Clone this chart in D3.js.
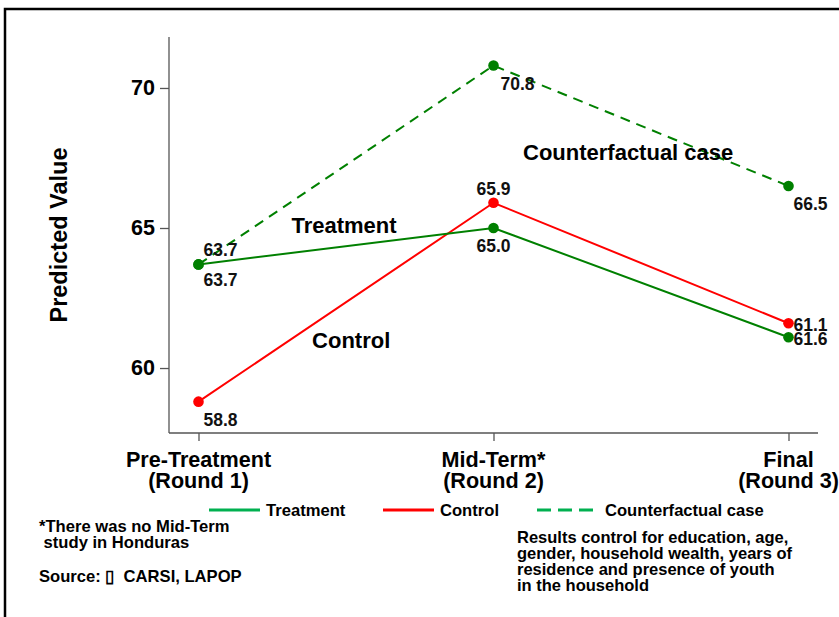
<!DOCTYPE html>
<html>
<head>
<meta charset="utf-8">
<script src="https://cdn.jsdelivr.net/npm/d3@7"></script>
<style>
  html, body { margin: 0; padding: 0; background: #fff; }
  svg { display: block; font-family: "Liberation Sans", Arial, Helvetica, sans-serif; font-weight: bold; }
</style>
</head>
<body>
<svg id="chart" width="839" height="617"></svg>
<script>
// ---- Data ----
const categories = ["Pre-Treatment|(Round 1)", "Mid-Term*|(Round 2)", "Final|(Round 3)"];
const treatment = [63.7, 65.0, 61.1];
const control = [58.8, 65.9, 61.6];
const counterfactual = [63.7, 70.8, 66.5];
const treatmentLabels = ["63.7", "65.0", "61.6"];
const controlLabels = ["58.8", "65.9", "61.1"];
const counterfactualLabels = ["63.7", "70.8", "66.5"];
const yTicks = [60, 65, 70];
const legendItems = ["Treatment", "Control", "Counterfactual case"];
const footLeft = ["*There was no Mid-Term", " study in Honduras"];
const sourceText = "Source: \u25AF  CARSI, LAPOP";
const footRight = ["Results control for education, age,", "gender, household wealth, years of",
                   "residence and presence of youth", "in the household"];

// ---- Setup ----
const svg = d3.select("#chart");
const pLeft = 169, pRight = 818, pTop = 37, pBottom = 433;

const x = d3.scaleLinear().domain([-0.1, 2.1]).range([pLeft, pRight]);
const y = d3.scaleLinear().domain([57.68, 71.82]).range([pBottom, pTop]);

const GREEN = "#008000", RED = "#ff0000", LEG_GREEN = "#00b050";

// frame
svg.append("rect").attr("x", 5).attr("y", 9).attr("width", 900).attr("height", 700)
  .attr("fill", "none").attr("stroke", "#000").attr("stroke-width", 2.5);

// axes
const yAxis = d3.axisLeft(y).tickValues(yTicks).tickSize(9).tickPadding(5).tickFormat(d3.format("d"));
const gy = svg.append("g").attr("transform", `translate(${pLeft},0)`).call(yAxis);
gy.select(".domain").attr("d", `M0,${pTop}V${pBottom}`);
const xAxis = d3.axisBottom(x).tickValues([0, 1, 2]).tickSize(8).tickFormat(() => "");
const gx = svg.append("g").attr("transform", `translate(0,${pBottom})`).call(xAxis);
gx.select(".domain").attr("d", `M${pLeft},0H${pRight}`);
[gy, gx].forEach(g => {
  g.selectAll(".domain, line").attr("stroke", "#555").attr("stroke-width", 1.3);
});
gy.selectAll("text").attr("font-size", 21.5).attr("font-weight", "bold")
  .attr("font-family", "Liberation Sans, Arial, sans-serif").attr("fill", "#000");

// x category labels
categories.forEach((c, i) => {
  const parts = c.split("|");
  const t = svg.append("text").attr("x", x(i)).attr("y", 467)
    .attr("text-anchor", "middle").attr("font-size", 21.6).attr("fill", "#000");
  parts.forEach((p, j) => {
    t.append("tspan").attr("x", x(i)).attr("dy", j === 0 ? 0 : 21).text(p);
  });
});

// y axis title
svg.append("text").attr("transform", `translate(67,235) rotate(-90)`)
  .attr("text-anchor", "middle").attr("font-size", 23.5).attr("fill", "#000")
  .text("Predicted Value");

// series
const line = d3.line().x((d, i) => x(i)).y(d => y(d));
function drawSeries(vals, color, dash) {
  svg.append("path").datum(vals).attr("d", line).attr("fill", "none")
    .attr("stroke", color).attr("stroke-width", 2)
    .attr("stroke-dasharray", dash || null);
  svg.selectAll(null).data(vals).enter().append("circle")
    .attr("cx", (d, i) => x(i)).attr("cy", d => y(d)).attr("r", 5.3).attr("fill", color);
}
drawSeries(counterfactual, GREEN, "10,7");
drawSeries(control, RED);
drawSeries(treatment, GREEN);

// value labels: placement per point [dx, dy, anchor]
function drawLabels(vals, labels, place) {
  svg.selectAll(null).data(vals).enter().append("text")
    .attr("x", (d, i) => x(i) + place[i][0]).attr("y", (d, i) => y(d) + place[i][1])
    .attr("text-anchor", (d, i) => place[i][2]).attr("font-size", 17.5).attr("fill", "#111")
    .text((d, i) => labels[i]);
}
drawLabels(treatment, treatmentLabels, [[5, 22, "start"], [0, 24, "middle"], [5, 8, "start"]]);
drawLabels(control, controlLabels, [[5, 24, "start"], [0, -8, "middle"], [5, 8, "start"]]);
drawLabels(counterfactual, counterfactualLabels, [[5, -8, "start"], [7, 24, "start"], [5, 24, "start"]]);

// in-plot series annotations
const notes = [
  { text: "Treatment", xi: 0.315, v: 64.82 },
  { text: "Control", xi: 0.385, v: 60.71 },
  { text: "Counterfactual case", xi: 1.1, v: 67.43 }
];
notes.forEach(n => {
  svg.append("text").attr("x", x(n.xi)).attr("y", y(n.v)).attr("font-size", 22)
    .attr("fill", "#000").text(n.text);
});

// legend
const legX = [209, 383, 537];
const legColors = [LEG_GREEN, RED, LEG_GREEN];
const legLen = [51, 51, 56];
legendItems.forEach((t, i) => {
  svg.append("line").attr("x1", legX[i]).attr("x2", legX[i] + legLen[i])
    .attr("y1", 510).attr("y2", 510).attr("stroke", legColors[i]).attr("stroke-width", 3)
    .attr("stroke-dasharray", i === 2 ? "14,7" : null);
  svg.append("text").attr("x", legX[i] + legLen[i] + (i === 2 ? 12 : 6)).attr("y", 515.5)
    .attr("font-size", 16.6).attr("fill", "#000").text(t);
});

// footnotes
footLeft.forEach((t, i) => {
  svg.append("text").attr("x", 39).attr("y", 531.5 + i * 16.5).attr("font-size", 16.6)
    .attr("fill", "#000").style("white-space", "pre").text(t);
});
svg.append("text").attr("x", 39).attr("y", 581.5).attr("font-size", 16.6).attr("fill", "#000")
  .style("white-space", "pre").text(sourceText);
footRight.forEach((t, i) => {
  svg.append("text").attr("x", 517).attr("y", 542.5 + i * 16.2).attr("font-size", 16.5)
    .attr("fill", "#000").text(t);
});
</script>
</body>
</html>
